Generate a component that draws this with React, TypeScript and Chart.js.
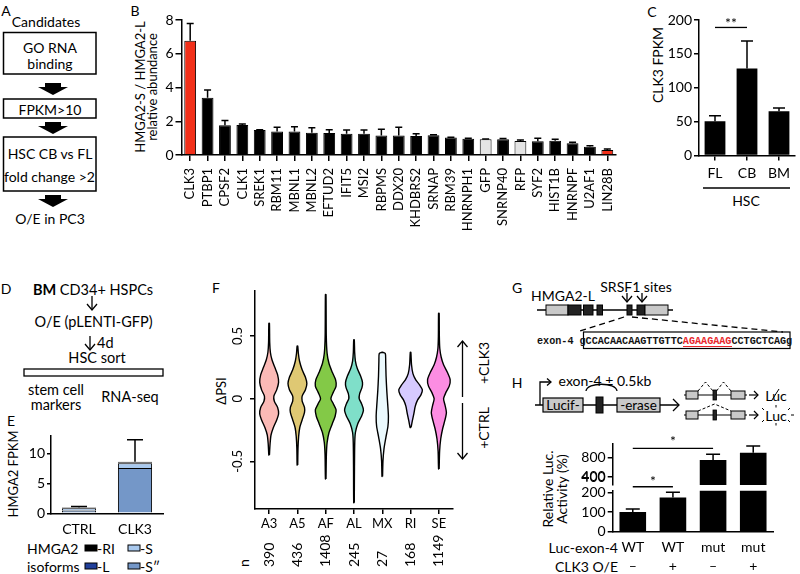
import React, { useEffect, useRef } from 'react';
import { Chart, registerables } from 'chart.js';

Chart.register(...registerables);

const FONT = 'Lato, "Open Sans", "Liberation Sans", sans-serif';
const MONO = '"Liberation Mono", "DejaVu Sans Mono", monospace';
Chart.defaults.font.family = FONT;
Chart.defaults.font.size = 14;
Chart.defaults.color = '#000';

// ---------------- Panel B data ----------------
const bGenes = ['CLK3', 'PTBP1', 'CPSF2', 'CLK1', 'SREK1', 'RBM11', 'MBNL1', 'MBNL2', 'EFTUD2', 'IFIT5', 'MSI2', 'RBPMS', 'DDX20', 'KHDBRS2', 'SRNAP', 'RBM39', 'HNRNPH1', 'GFP', 'SNRNP40', 'RFP', 'SYF2', 'HIST1B', 'HNRNPF', 'U2AF1', 'LIN28B'];
const bRatio = [6.77, 3.4, 1.76, 1.78, 1.48, 1.4, 1.4, 1.32, 1.3, 1.26, 1.26, 1.15, 1.15, 1.13, 1.17, 1.03, 0.97, 0.93, 0.93, 0.83, 0.81, 0.85, 0.69, 0.49, 0.3];
const bError = [1.03, 0.45, 0.28, 0.06, 0.02, 0.24, 0.28, 0.3, 0.2, 0.22, 0.22, 0.37, 0.49, 0.13, 0.03, 0.02, 0.02, 0.02, 0.05, 0.06, 0.19, 0.08, 0.06, 0.06, 0.05];
const bHighlighted = ['CLK3', 'LIN28B'];
const bControls = ['GFP', 'RFP'];
const bYTicks = [0, 2, 4, 6, 8];

// ---------------- Panel C data ----------------
const cTissues = ['FL', 'CB', 'BM'];
const cFpkm = [50.4, 128.5, 65.2];
const cError = [8.4, 40.5, 4.8];
const cYTicks = [0, 50, 100, 150, 200];

// ---------------- Panel E data ----------------
const eConditions = ['CTRL', 'CLK3'];
const eIsoSpp = [0.45, 7.6];
const eIsoS = [0.38, 0.8];
const eIsoL = [0.05, 0.06];
const eIsoRI = [0.1, 0.16];
const eError = [0.15, 3.7];
const eYTicks = [0, 5, 10];
const eLegend = ['-RI', '-S', '-L', '-S\u2033'];

// ---------------- Panel F data ----------------
const fTypes = ['A3', 'A5', 'AF', 'AL', 'MX', 'RI', 'SE'];
const fCounts = [390, 436, 1408, 245, 27, 168, 1149];
const fYTicks = [-0.5, 0, 0.5];
// [deltaPSI, density] profiles
const violinA3 = [[-0.45, 0.3], [-0.36, 1], [-0.29, 2], [-0.23, 4.5], [-0.17, 8], [-0.12, 10], [-0.07, 9], [-0.02, 5.5], [0.02, 5], [0.07, 8], [0.13, 10], [0.19, 9], [0.25, 6], [0.31, 3], [0.37, 1.3], [0.45, 0.6], [0.6, 0.3]];
const violinA5 = [[-0.53, 0.3], [-0.4, 0.6], [-0.3, 1.3], [-0.23, 2.5], [-0.17, 5], [-0.11, 7.5], [-0.07, 7.5], [-0.02, 5], [0.02, 5], [0.07, 8.5], [0.12, 10], [0.17, 8.5], [0.23, 5], [0.3, 2.2], [0.36, 1], [0.42, 0.3]];
const violinAF = [[-0.64, 0.3], [-0.45, 0.7], [-0.35, 1.5], [-0.27, 3.5], [-0.2, 7], [-0.14, 10], [-0.09, 11], [-0.04, 8], [0.0, 5.5], [0.05, 8], [0.1, 11], [0.15, 10.5], [0.21, 7], [0.28, 3.5], [0.36, 1.5], [0.5, 0.6], [0.83, 0.3]];
const violinAL = [[-0.83, 0.3], [-0.55, 0.5], [-0.35, 0.8], [-0.27, 1.5], [-0.2, 4], [-0.14, 8], [-0.09, 10], [-0.04, 8], [0.0, 5.5], [0.04, 6], [0.09, 8.5], [0.13, 9], [0.18, 7], [0.24, 3.5], [0.3, 1.5], [0.37, 0.7], [0.47, 0.3]];
const violinMX = [[-0.62, 0.3], [-0.5, 0.7], [-0.4, 1.8], [-0.31, 3.8], [-0.22, 6], [-0.14, 6.5], [-0.05, 5.8], [0.06, 4.8], [0.18, 4], [0.3, 3.6], [0.36, 3.2], [0.37, 0]];
const violinRI = [[-0.23, 0.5], [-0.18, 1.8], [-0.12, 3.5], [-0.06, 5], [-0.01, 7.5], [0.03, 11], [0.07, 12.5], [0.11, 9.5], [0.15, 5.5], [0.2, 2.5], [0.27, 1], [0.37, 0.3]];
const violinSE = [[-0.56, 0.3], [-0.42, 0.8], [-0.32, 2], [-0.24, 4], [-0.17, 6.5], [-0.11, 8], [-0.05, 6.5], [0.0, 5], [0.05, 7.5], [0.1, 11], [0.15, 12], [0.21, 9], [0.27, 5], [0.33, 2.5], [0.4, 1], [0.5, 0.5], [0.68, 0.3]];
const fViolins = [violinA3, violinA5, violinAF, violinAL, violinMX, violinRI, violinSE];

// ---------------- Panel H data ----------------
const hConstruct = ['WT', 'WT', 'mut', 'mut'];
const hClk3 = ['\u2013', '+', '\u2013', '+'];
const hActivity = [100, 173, 744, 895];
const hError = [15, 27, 118, 138];
const hLowerTicks = [0, 100, 200];
const hUpperTicks = [400, 800];

// ---------------- styles ----------------
const RED = '#f2301a';
const fColors = ['248,118,109', '196,154,0', '83,180,0', '0,192,148', '0,182,235', '165,138,255', '251,97,215'];
const fAlpha = [0.5, 0.55, 0.72, 0.5, 0.08, 0.45, 0.72];
const eColors = ['#7497c8', '#a9c9ee', '#213f9a', '#000000'];
const violinScale = 1 / 30;

// ---------------- plugins ----------------
const errorBarPlugin = {
  id: 'errorBars',
  afterDatasetsDraw(chart: any, _a: any, opts: any) {
    const ctx = chart.ctx;
    chart.data.datasets.forEach((ds: any, di: number) => {
      if (!ds.errors) return;
      const meta = chart.getDatasetMeta(di);
      const ys = chart.scales[meta.yAxisID];
      meta.data.forEach((el: any, i: number) => {
        const e = ds.errors[i];
        const raw = ds.data[i];
        if (e == null || raw == null) return;
        const base = ys.getValueForPixel(el.y);
        const yt = ys.getPixelForValue(base + e);
        const cap = opts.cap || 8;
        ctx.save();
        ctx.strokeStyle = '#000';
        ctx.lineWidth = opts.width || 1.5;
        ctx.beginPath();
        ctx.moveTo(el.x, el.y);
        ctx.lineTo(el.x, yt);
        ctx.moveTo(el.x - cap / 2, yt);
        ctx.lineTo(el.x + cap / 2, yt);
        ctx.stroke();
        ctx.restore();
      });
    });
  },
};

const sigPlugin = {
  id: 'sig',
  afterDraw(chart: any, _a: any, opts: any) {
    const items = (opts && opts.items) || [];
    const ctx = chart.ctx;
    const xs = chart.scales.x;
    const ys = chart.scales.y;
    items.forEach((it: any) => {
      const x1 = xs.getPixelForValue(it.from);
      const x2 = xs.getPixelForValue(it.to);
      const y = ys.getPixelForValue(it.value);
      ctx.save();
      ctx.strokeStyle = '#000';
      ctx.lineWidth = 1.3;
      ctx.beginPath();
      ctx.moveTo(x1, y);
      ctx.lineTo(x2, y);
      ctx.stroke();
      ctx.fillStyle = '#000';
      ctx.font = `14px ${FONT}`;
      ctx.textAlign = 'center';
      ctx.textBaseline = 'middle';
      ctx.fillText(it.label, (x1 + x2) / 2, ys.getPixelForValue(it.labelValue));
      ctx.restore();
    });
  },
};

const violinTextPlugin = {
  id: 'violinText',
  afterDraw(chart: any) {
    const ctx = chart.ctx;
    const ys = chart.scales.y;
    const xs = chart.scales.x;
    ctx.save();
    ctx.fillStyle = '#000';
    ctx.font = `13px ${FONT}`;
    ctx.textBaseline = 'middle';
    ys.ticks.forEach((t: any) => {
      const y = ys.getPixelForValue(t.value);
      ctx.save();
      ctx.translate(ys.right - 17, y);
      ctx.rotate(-Math.PI / 2);
      ctx.textAlign = 'center';
      ctx.fillText(String(t.value), 0, 0);
      ctx.restore();
    });
    ctx.font = `14px ${FONT}`;
    fCounts.forEach((n, i) => {
      ctx.save();
      ctx.translate(xs.getPixelForValue(i), chart.height - 8);
      ctx.rotate(-Math.PI / 2);
      ctx.textAlign = 'left';
      ctx.fillText(String(n), 0, 0);
      ctx.restore();
    });
    ctx.restore();
  },
};

// ---------------- axis helpers ----------------
const BORDER = { display: true, color: '#000', width: 1.5 };
const tickGrid = (len: number, offset = false) => ({
  display: true, drawOnChartArea: false, drawTicks: true, tickLength: len, color: '#000', lineWidth: 1.5, offset,
});
const noGrid = { display: false, drawTicks: false };
const fixedTicks = (vals: number[]) => (s: any) => { s.ticks = vals.map((v) => ({ value: v })); };
const yTickFont = { font: { size: 14 }, padding: 2, color: '#000', autoSkip: false };

// ---------------- chart configs ----------------
function makeB() {
  return {
    type: 'bar',
    data: {
      labels: bGenes,
      datasets: [{
        data: bRatio,
        errors: bError,
        backgroundColor: bGenes.map((g) => (bHighlighted.includes(g) ? RED : bControls.includes(g) ? '#e4e4e4' : '#000')),
        borderColor: '#000', borderWidth: 1, barPercentage: 0.68, categoryPercentage: 1,
      }],
    },
    options: {
      responsive: false, animation: false,
      layout: { padding: { top: 15, right: 4, left: 0, bottom: 0 } },
      plugins: { legend: { display: false }, tooltip: { enabled: false }, errorBars: { cap: 7, width: 1.5 } },
      scales: {
        x: {
          offset: true, border: BORDER, grid: tickGrid(6, false),
          ticks: { autoSkip: false, minRotation: 90, maxRotation: 90, font: { size: 13 }, padding: 7, color: '#000' },
          afterFit: (s: any) => { s.height = 85; },
        },
        y: {
          min: 0, max: 8, border: BORDER, grid: tickGrid(6),
          afterBuildTicks: fixedTicks(bYTicks),
          ticks: yTickFont,
          afterFit: (s: any) => { s.width = 61.5; },
        },
      },
    },
    plugins: [errorBarPlugin],
  };
}

function makeC() {
  return {
    type: 'bar',
    data: {
      labels: cTissues,
      datasets: [{ data: cFpkm, errors: cError, backgroundColor: '#000', barPercentage: 0.65, categoryPercentage: 1 }],
    },
    options: {
      responsive: false, animation: false,
      layout: { padding: { top: 15, right: 5, left: 0, bottom: 0 } },
      plugins: {
        legend: { display: false }, tooltip: { enabled: false }, errorBars: { cap: 12, width: 1.5 },
        sig: { items: [{ from: 0, to: 1, value: 189, labelValue: 195, label: '**' }] },
      },
      scales: {
        x: {
          offset: true, border: BORDER, grid: tickGrid(5, false),
          ticks: { font: { size: 14 }, padding: 5, color: '#000' },
          afterFit: (s: any) => { s.height = 39.5; },
        },
        y: {
          min: 0, max: 200, border: BORDER, grid: tickGrid(5),
          afterBuildTicks: fixedTicks(cYTicks),
          ticks: yTickFont,
          afterFit: (s: any) => { s.width = 51; },
        },
      },
    },
    plugins: [errorBarPlugin, sigPlugin],
  };
}

function makeE() {
  const layers = [eIsoSpp, eIsoS, eIsoL, eIsoRI];
  return {
    type: 'bar',
    data: {
      labels: eConditions,
      datasets: layers.map((arr, k) => ({
        label: eLegend[3 - k],
        data: arr,
        errors: k === layers.length - 1 ? eError : undefined,
        backgroundColor: eColors[k], borderColor: '#000', borderWidth: 1,
        barPercentage: 0.61, categoryPercentage: 1,
      })),
    },
    options: {
      responsive: false, animation: false,
      layout: { padding: { top: 10.7, right: 7, left: 0, bottom: 0 } },
      plugins: { legend: { display: false }, tooltip: { enabled: false }, errorBars: { cap: 16, width: 1.5 } },
      scales: {
        x: {
          stacked: true, offset: true, border: BORDER, grid: noGrid,
          ticks: { font: { size: 14 }, padding: 8, color: '#000' },
          afterFit: (s: any) => { s.height = 26.7; },
        },
        y: {
          min: 0, max: 13, stacked: true, border: BORDER, grid: tickGrid(4),
          afterBuildTicks: fixedTicks(eYTicks),
          ticks: yTickFont,
          afterFit: (s: any) => { s.width = 51; },
        },
      },
    },
    plugins: [errorBarPlugin],
  };
}

function violinOutline(profile: number[][], center: number) {
  const right = profile.map(([y, w]) => ({ x: center + w * violinScale, y }));
  const left = profile.slice().reverse().map(([y, w]) => ({ x: center - w * violinScale, y }));
  return [...right, ...left, right[0]];
}

function makeF() {
  return {
    type: 'scatter',
    data: {
      datasets: fViolins.map((v, i) => ({
        data: violinOutline(v, i),
        showLine: true, fill: 'shape', tension: 0.25,
        backgroundColor: `rgba(${fColors[i]},${fAlpha[i]})`,
        borderColor: '#000', borderWidth: 1.4, pointRadius: 0,
      })),
    },
    options: {
      responsive: false, animation: false,
      layout: { padding: { top: 10.7, right: 7, left: 0, bottom: 0 } },
      plugins: { legend: { display: false }, tooltip: { enabled: false } },
      scales: {
        x: {
          type: 'linear', min: -0.5, max: 6.5, border: BORDER, grid: tickGrid(5),
          afterBuildTicks: fixedTicks(fTypes.map((_, i) => i)),
          ticks: { font: { size: 13 }, padding: 2, color: '#000', autoSkip: false, callback: (v: any) => fTypes[v] },
          afterFit: (s: any) => { s.height = 66; },
        },
        y: {
          min: -0.88, max: 0.86, border: BORDER, grid: tickGrid(5),
          afterBuildTicks: fixedTicks(fYTicks),
          ticks: { font: { size: 13 }, color: 'rgba(0,0,0,0)', autoSkip: false },
          afterFit: (s: any) => { s.width = 50; },
        },
      },
    },
    plugins: [violinTextPlugin],
  };
}

const H_LOWER_MAX = 208;

// upper (broken) segment of panel H: same canvas footprint as the lower one, x axis kept but invisible
function makeHUpper() {
  return {
    type: 'bar',
    data: {
      labels: hConstruct,
      datasets: [{
        data: hActivity.map((v) => (v > H_LOWER_MAX ? v : null)),
        errors: hActivity.map((v, i) => (v > H_LOWER_MAX ? hError[i] : null)),
        backgroundColor: '#000', barPercentage: 0.663, categoryPercentage: 1,
      }],
    },
    options: {
      responsive: false, animation: false,
      layout: { padding: { top: 18.3, right: 6.7, left: 0, bottom: 0 } },
      plugins: {
        legend: { display: false }, tooltip: { enabled: false }, errorBars: { cap: 14, width: 1.5 },
        sig: { items: [{ from: 0, to: 2, value: 985, labelValue: 1130, label: '*' }] },
      },
      scales: {
        x: {
          offset: true, border: { display: false }, grid: noGrid,
          ticks: { display: false },
          afterFit: (s: any) => { s.height = 89; },
        },
        y: {
          min: 230, max: 1090, border: BORDER, grid: tickGrid(5),
          afterBuildTicks: fixedTicks(hUpperTicks),
          ticks: yTickFont,
          afterFit: (s: any) => { s.width = 42.7; },
        },
      },
    },
    plugins: [errorBarPlugin, sigPlugin],
  };
}

function makeHLower() {
  return {
    type: 'bar',
    data: {
      labels: hConstruct.map((c, i) => [c, hClk3[i]]),
      datasets: [{
        data: hActivity,
        errors: hActivity.map((v, i) => (v <= H_LOWER_MAX ? hError[i] : null)),
        backgroundColor: '#000', barPercentage: 0.663, categoryPercentage: 1,
      }],
    },
    options: {
      responsive: false, animation: false,
      layout: { padding: { top: 20.7, right: 6.7, left: 0, bottom: 0 } },
      plugins: {
        legend: { display: false }, tooltip: { enabled: false }, errorBars: { cap: 14, width: 1.5 },
        sig: { items: [{ from: 0, to: 1, value: 228, labelValue: 257, label: '*' }] },
      },
      scales: {
        x: {
          offset: true, border: BORDER, grid: noGrid,
          ticks: { font: { size: 14, lineHeight: 1.35 }, padding: 6, color: '#000', autoSkip: false },
          afterFit: (s: any) => { s.height = 42.3; },
        },
        y: {
          min: 0, max: H_LOWER_MAX, border: BORDER, grid: tickGrid(5),
          afterBuildTicks: fixedTicks(hLowerTicks),
          ticks: yTickFont,
          afterFit: (s: any) => { s.width = 42.7; },
        },
      },
    },
    plugins: [errorBarPlugin, sigPlugin],
  };
}

// ---------------- components ----------------
function ChartCanvas({ x, y, w, h, make }: any) {
  const ref = useRef<HTMLCanvasElement>(null);
  useEffect(() => {
    const chart = new Chart(ref.current as HTMLCanvasElement, make());
    return () => chart.destroy();
  }, []);
  return <canvas ref={ref} width={w} height={h} style={{ position: 'absolute', left: x, top: y, width: w, height: h }} />;
}

const T = ({ x, y, s = 14, a = 'middle', r = 0, w = 400, f = FONT, fill = '#000', children }: any) => (
  <text x={x} y={y} fontSize={s} textAnchor={a} dominantBaseline="central" fontFamily={f} fontWeight={w} fill={fill}
    transform={r ? `rotate(${r} ${x} ${y})` : undefined}>{children}</text>
);

const BlockArrow = ({ cx, y }: any) => (
  <polygon fill="#000" points={`${cx - 8},${y} ${cx + 8},${y} ${cx + 8},${y + 4} ${cx + 15},${y + 4} ${cx},${y + 12} ${cx - 15},${y + 4} ${cx - 8},${y + 4}`} />
);

const VArrow = ({ x, y1, y2, up = false }: any) => {
  const tip = up ? y1 : y2;
  const d = up ? 6 : -6;
  return (
    <g stroke="#000" strokeWidth={1.3} fill="none">
      <line x1={x} y1={y1} x2={x} y2={y2} />
      <polyline points={`${x - 5},${tip + d} ${x},${tip} ${x + 5},${tip + d}`} />
    </g>
  );
};

function Diagrams() {
  const gray = '#c9c9c9';
  return (
    <svg width={800} height={574} style={{ position: 'absolute', left: 0, top: 0 }}>
      {/* Panel A */}
      <T x={6} y={10}>A</T>
      <T x={46} y={21}>Candidates</T>
      <rect x={3.5} y={32.5} width={92.5} height={41.5} fill="none" stroke="#000" strokeWidth={1.5} />
      <T x={50} y={47}>GO RNA</T>
      <T x={50} y={63.5}>binding</T>
      <BlockArrow cx={53} y={83} />
      <rect x={3.5} y={99} width={92.5} height={19} fill="none" stroke="#000" strokeWidth={1.5} />
      <T x={50} y={109}>FPKM&gt;10</T>
      <BlockArrow cx={53} y={122} />
      <rect x={3.5} y={137} width={92.5} height={54} fill="none" stroke="#000" strokeWidth={1.5} />
      <T x={50} y={153}>HSC CB vs FL</T>
      <T x={49.5} y={176}>fold change &gt;2</T>
      <BlockArrow cx={53} y={195} />
      <T x={50} y={218}>O/E in PC3</T>

      {/* Panel B / C titles */}
      <T x={135} y={10}>B</T>
      <T x={140} y={87} r={-90} s={13}>HMGA2-S / HMGA2-L</T>
      <T x={152} y={87} r={-90} s={13}>relative abundance</T>
      <T x={652} y={11}>C</T>
      <T x={657} y={65} r={-90}>CLK3 FPKM</T>
      <line x1={703} y1={188} x2={790} y2={188} stroke="#000" strokeWidth={1.4} />
      <T x={746} y={200}>HSC</T>

      {/* Panel D */}
      <T x={6} y={288}>D</T>
      <text x={93} y={289} fontSize={14.5} textAnchor="middle" dominantBaseline="central" fontFamily={FONT}>
        <tspan fontWeight={700}>BM</tspan> CD34+ HSPCs
      </text>
      <VArrow x={92} y1={296} y2={310} />
      <T x={93.5} y={321} s={14.5}>O/E (pLENTI-GFP)</T>
      <VArrow x={90} y1={336} y2={350} />
      <T x={97} y={342} a="start" s={14.5}>4d</T>
      <T x={97} y={357} s={14.5}>HSC sort</T>
      <rect x={24} y={369} width={139} height={7} fill="none" stroke="#000" strokeWidth={1.3} />
      <T x={56} y={389} s={14.5}>stem cell</T>
      <T x={56} y={404} s={14.5}>markers</T>
      <T x={130} y={396} s={14.5}>RNA-seq</T>

      {/* Panel E texts */}
      <T x={11} y={420}>E</T>
      <T x={13} y={474} r={-90} s={13}>HMGA2 FPKM</T>
      <T x={27} y={548} a="start">HMGA2</T>
      <T x={27} y={566} a="start">isoforms</T>
      <rect x={85} y={545} width={12} height={6} fill={eColors[3]} stroke="#000" />
      <T x={97} y={548} a="start">{eLegend[0]}</T>
      <rect x={128} y={545} width={12} height={6} fill={eColors[1]} stroke="#000" />
      <T x={140} y={548} a="start">{eLegend[1]}</T>
      <rect x={85} y={563} width={12} height={6} fill={eColors[2]} stroke="#000" />
      <T x={97} y={566} a="start">{eLegend[2]}</T>
      <rect x={128} y={563} width={12} height={6} fill={eColors[0]} stroke="#000" />
      <T x={140} y={566} a="start">{eLegend[3]}</T>

      {/* Panel F texts */}
      <T x={216} y={287}>F</T>
      <T x={221} y={391} r={-90} s={13}>ΔPSI</T>
      <T x={243} y={563} r={-90}>n</T>
      <VArrow x={462.5} y1={341} y2={397} up />
      <VArrow x={462.5} y1={403} y2={459} />
      <T x={483} y={363} r={-90}>+CLK3</T>
      <T x={483} y={428} r={-90}>+CTRL</T>

      {/* Panel G */}
      <T x={517} y={287}>G</T>
      <T x={563} y={295}>HMGA2-L</T>
      <T x={636} y={286}>SRSF1 sites</T>
      <VArrow x={627} y1={293} y2={302} />
      <VArrow x={642} y1={293} y2={302} />
      <line x1={537} y1={310} x2={673} y2={310} stroke="#000" strokeWidth={1.3} />
      <rect x={546} y={305} width={22} height={10} fill={gray} stroke="#000" />
      <rect x={568} y={305} width={13} height={10} fill="#222" stroke="#000" />
      <rect x={583.5} y={305} width={9.5} height={10} fill="#222" stroke="#000" />
      <rect x={597} y={305} width={5.5} height={10} fill="#222" stroke="#000" />
      <rect x={627} y={305} width={5} height={10} fill="#222" stroke="#000" />
      <rect x={637} y={305} width={8} height={10} fill="#222" stroke="#000" />
      <rect x={645} y={305} width={23} height={10} fill={gray} stroke="#000" />
      <line x1={624} y1={317} x2={577} y2={332} stroke="#000" strokeWidth={1.3} strokeDasharray="6 4" />
      <line x1={632} y1={317} x2={783} y2={332} stroke="#000" strokeWidth={1.3} strokeDasharray="6 4" />
      <rect x={583.5} y={332} width={206.5} height={16.5} fill="none" stroke="#000" strokeWidth={1.2} />
      <text x={537} y={341} fontSize={10.13} fontFamily={MONO} fontWeight={700} dominantBaseline="central" fill="#111">
        exon-4 gCCACAACAAGTTGTTC<tspan fill="#e8252a">AGAAGAAG</tspan>CCTGCTCAGg
      </text>
      <line x1={683} y1={346.5} x2={732} y2={346.5} stroke="#e8252a" strokeWidth={1} />

      {/* Panel H diagram */}
      <T x={517} y={382}>H</T>
      <path d="M540,405 V382 H551" fill="none" stroke="#000" strokeWidth={1.3} />
      <polyline points="547,378.5 551,382 547,385.5" fill="none" stroke="#000" strokeWidth={1.3} />
      <T x={605} y={380}>exon-4 ± 0.5kb</T>
      <path d="M586,391 C587,382 616,382 617,391" fill="none" stroke="#000" strokeWidth={1.3} />
      <line x1={535} y1={405} x2={679} y2={405} stroke="#000" strokeWidth={1.3} />
      <polyline points="673,399 679,405 673,411" fill="none" stroke="#000" strokeWidth={1.3} />
      <rect x={543} y={398} width={40} height={14} fill={gray} stroke="#000" strokeWidth={1.2} />
      <T x={563} y={405} s={13.5}>Lucif-</T>
      <rect x={596} y={397} width={7} height={16} fill="#222" stroke="#000" />
      <rect x={617} y={398} width={43} height={14} fill={gray} stroke="#000" strokeWidth={1.2} />
      <T x={638.5} y={405} s={13.5}>-erase</T>

      {/* transcripts */}
      {[395, 415].map((yy, k) => (
        <g key={yy}>
          <line x1={684} y1={yy} x2={747} y2={yy} stroke="#000" strokeWidth={1.2} />
          <rect x={686} y={yy - 4} width={12} height={8} fill={gray} stroke="#000" />
          <rect x={713} y={yy - 5} width={3.5} height={10} fill="#222" stroke="#000" strokeWidth={0.8} />
          <rect x={731} y={yy - 4} width={14} height={8} fill={gray} stroke="#000" />
          {k === 0 ? (
            <polyline points={`698,${yy - 4} 705.5,${yy - 13} 713,${yy - 4}`} fill="none" stroke="#000" strokeWidth={1} strokeDasharray="3 2" />
          ) : (
            <polyline points={`698,${yy - 4} 714.5,${yy - 11} 731,${yy - 4}`} fill="none" stroke="#000" strokeWidth={1} strokeDasharray="3 2" />
          )}
          {k === 0 && (
            <polyline points={`716.5,${yy - 4} 723.5,${yy - 13} 731,${yy - 4}`} fill="none" stroke="#000" strokeWidth={1} strokeDasharray="3 2" />
          )}
          <line x1={749} y1={yy} x2={758} y2={yy} stroke="#000" strokeWidth={1.2} />
          <polyline points={`754,${yy - 4} 758,${yy} 754,${yy + 4}`} fill="none" stroke="#000" strokeWidth={1.2} />
          <T x={776} y={yy}>Luc</T>
        </g>
      ))}
      <line x1={772} y1={400} x2={779} y2={389} stroke="#000" strokeWidth={1} />
      <g stroke="#000" strokeWidth={1}>
        <line x1={762} y1={408} x2={764} y2={410} />
        <line x1={776} y1={405} x2={776} y2={407.5} />
        <line x1={790} y1={408} x2={788} y2={410} />
        <line x1={791} y1={415} x2={794} y2={415} />
        <line x1={762} y1={422} x2={764} y2={420} />
        <line x1={790} y1={422} x2={788} y2={420} />
        <line x1={776} y1={423} x2={776} y2={425.5} />
      </g>
      <T x={547} y={489} r={-90}>Relative Luc.</T>
      <T x={561} y={489} r={-90}>Activity (%)</T>
      <T x={618} y={547} a="end">Luc-exon-4</T>
      <T x={618} y={566} a="end">CLK3 O/E</T>
    </svg>
  );
}

export default function App() {
  return (
    <div style={{ position: 'fixed', left: 0, top: 0, width: 800, height: 574, background: '#fff', overflow: 'hidden', fontFamily: FONT }}>
      <Diagrams />
      <ChartCanvas x={120} y={5} w={510} h={235} make={makeB} />
      <ChartCanvas x={648} y={5} w={152} h={190} make={makeC} />
      <ChartCanvas x={0} y={425} w={170} h={115} make={makeE} />
      <ChartCanvas x={205} y={280} w={255} h={295} make={makeF} />
      <ChartCanvas x={570} y={470} w={210} h={104} make={makeHLower} />
      <ChartCanvas x={570} y={425} w={210} h={149} make={makeHUpper} />
      <svg width={800} height={574} style={{ position: 'absolute', left: 0, top: 0, pointerEvents: 'none' }}>
        <T x={605.7} y={476.8} a="end">{String(hUpperTicks[0])}</T>
      </svg>
    </div>
  );
}
